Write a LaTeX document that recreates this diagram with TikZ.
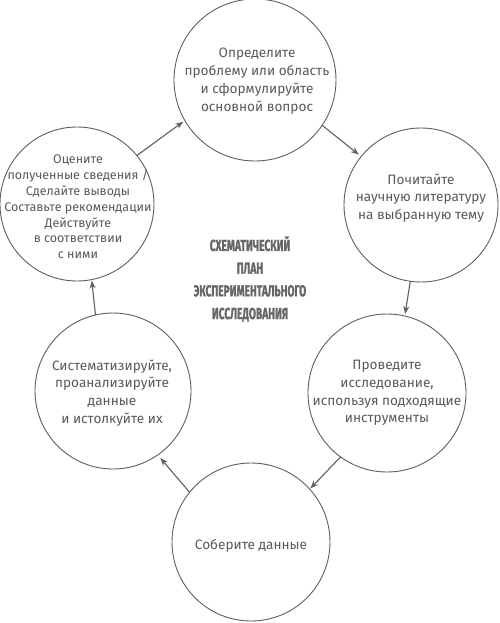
\documentclass[tikz,border=0pt]{standalone}
\usepackage{fontspec}
\setmainfont{Fira Sans}
\newfontfamily\titlefont[FakeStretch=0.64,BoldFeatures={FakeBold=1.2}]{Fira Sans}
\usetikzlibrary{arrows.meta}
\definecolor{linegray}{HTML}{5F5F5F}
\definecolor{textgray}{HTML}{5A5A5A}
\definecolor{titlegray}{HTML}{666666}
\begin{document}
\begin{tikzpicture}[x=1pt,y=-1pt,
  stage/.style={circle,draw=linegray,line width=0.9pt,minimum size=#1,inner sep=0pt,outer sep=0pt},
  txt/.style={text=textgray,align=center,inner sep=0pt,font=\fontsize{13.6}{17.8}\selectfont},
  smalltxt/.style={txt,font=\fontsize{12.5}{15.8}\selectfont},
  titletxt/.style={text=titlegray,align=center,inner sep=0pt,font=\titlefont\bfseries\fontsize{16}{22.7}\selectfont},
  flow/.style={draw=linegray,line width=1.1pt,-{Stealth[length=8pt,width=6pt]}}]
\useasboundingbox (0,0) rectangle (500,623);
\fill[white] (0,0) rectangle (500,623);
% circles
\node[stage=162pt] (T)  at (255,80)  {};
\node[stage=154pt] (R)  at (421,205) {};
\node[stage=158pt] (LR) at (387,393) {};
\node[stage=158pt] (B)  at (251,542) {};
\node[stage=156pt] (LL) at (113,391) {};
\node[stage=154pt] (UL) at (77,204)  {};
% texts
\node[txt] (tT) at (257,81) {Определите\\проблему или область\\и сформулируйте\\основной вопрос};
\node[txt] (tR) at (421,198) {Почитайте\\научную литературу\\на выбранную тему};
\node[txt] (tLR) at (387,393) {Проведите\\исследование,\\используя подходящие\\инструменты};
\node[txt] (tB) at (251,546) {Соберите данные};
\node[txt] (tLL) at (112,393) {Систематизируйте,\\проанализируйте\\данные\\и истолкуйте их};
\node[smalltxt] (tUL) at (78,207) {Оцените\\полученные сведения /\\Сделайте выводы\\Составьте рекомендации\\Действуйте\\в соответствии\\с ними};
\node[titletxt] (title) at (250,279) {СХЕМАТИЧЕСКИЙ\\ПЛАН\\ЭКСПЕРИМЕНТАЛЬНОГО\\ИССЛЕДОВАНИЯ};
% connectors
\draw[flow,shorten >=2pt] (UL.39) -- (T.210);
\draw[flow,shorten >=3pt] (T.-34) -- (R.141);
\draw[flow,shorten >=2pt] (R.262) -- (LR.77);
\draw[flow,shorten >=1pt] (LR.234) -- (B.42);
\draw[flow,shorten >=4pt] (B.141) -- (LL.305);
\draw[flow,shorten >=1pt] (LL.103) -- (UL.281);
\end{tikzpicture}
\end{document}
